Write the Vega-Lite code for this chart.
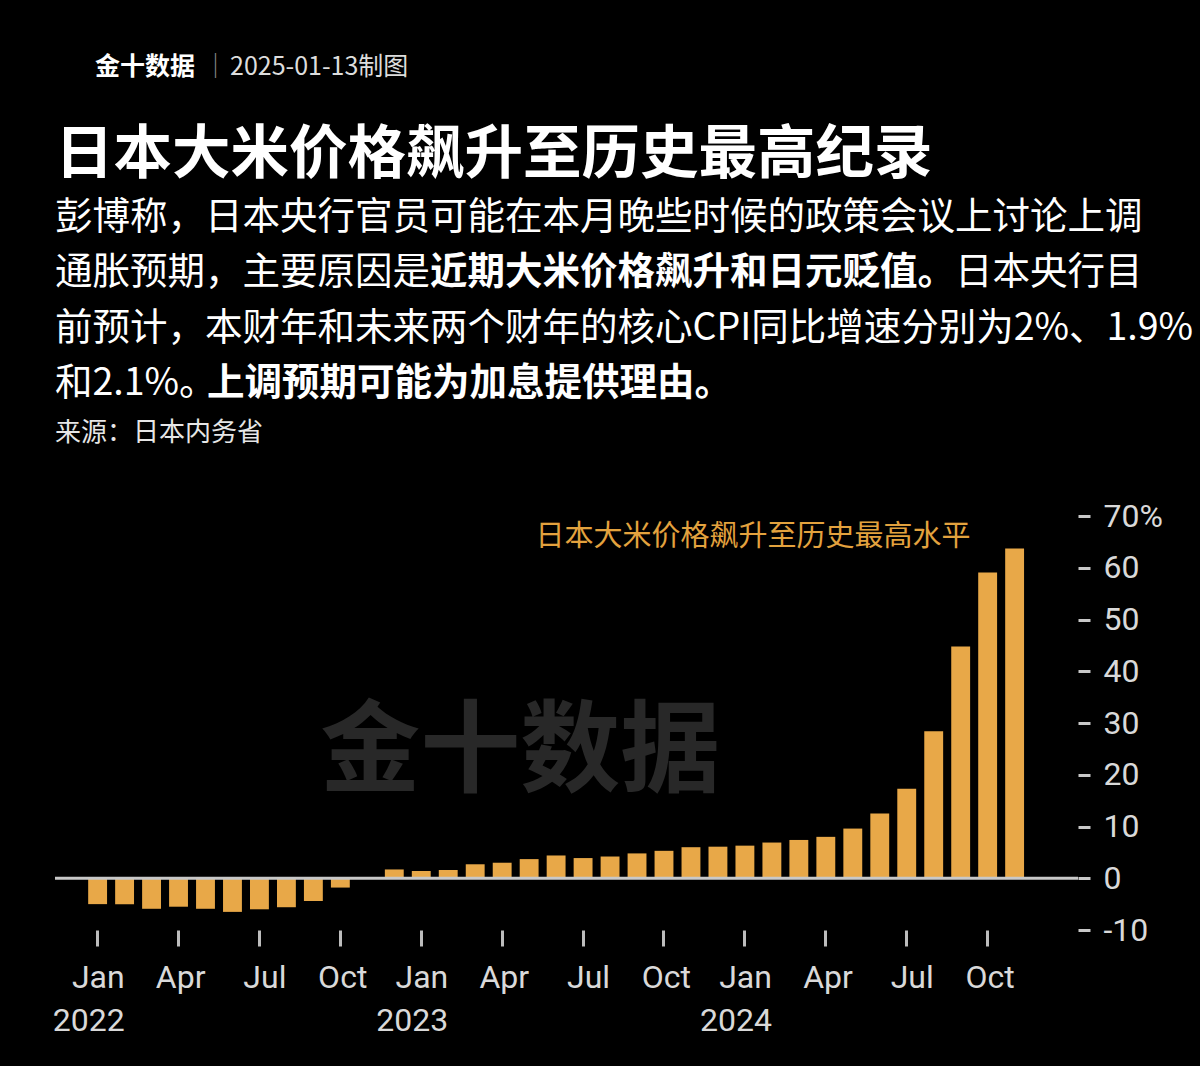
{
  "$schema": "https://vega.github.io/schema/vega-lite/v6.json",
  "background": "#000000",
  "padding": {"left": 52, "top": 0, "right": 20, "bottom": 30},
  "spacing": 46,
  "bounds": "flush",
  "config": {"view": {"stroke": null}, "font": "Noto Sans CJK SC"},
  "datasets": {
    "header": [
      {"line": 0, "role": "logo", "text": "金十数据"},
      {"line": 0, "role": "sep", "text": "｜"},
      {"line": 0, "role": "date", "text": "2025-01-13制图"},
      {"line": 1, "role": "title", "text": "日本大米价格飙升至历史最高纪录"},
      {"line": 2, "role": "para", "text": "彭博称，日本央行官员可能在本月晚些时候的政策会议上讨论上调"},
      {"line": 3, "role": "para", "text": "通胀预期，主要原因是"},
      {"line": 3, "role": "bold3", "text": "近期大米价格飙升和日元贬值。"},
      {"line": 3, "role": "tail3", "text": "日本央行目"},
      {"line": 4, "role": "para", "text": "前预计，本财年和未来两个财年的核心CPI同比增速分别为2%、1.9%"},
      {"line": 5, "role": "para", "text": "和2.1%。"},
      {"line": 5, "role": "bold5", "text": "上调预期可能为加息提供理由。"},
      {"line": 6, "role": "source", "text": "来源：日本内务省"}
    ],
    "rice": [
      {"month": "2022-01", "value": -5.0},
      {"month": "2022-02", "value": -5.0},
      {"month": "2022-03", "value": -5.9},
      {"month": "2022-04", "value": -5.5},
      {"month": "2022-05", "value": -5.9},
      {"month": "2022-06", "value": -6.5},
      {"month": "2022-07", "value": -6.0},
      {"month": "2022-08", "value": -5.6},
      {"month": "2022-09", "value": -4.4},
      {"month": "2022-10", "value": -1.8},
      {"month": "2022-11", "value": 0.0},
      {"month": "2022-12", "value": 1.7},
      {"month": "2023-01", "value": 1.4},
      {"month": "2023-02", "value": 1.6},
      {"month": "2023-03", "value": 2.7},
      {"month": "2023-04", "value": 3.0},
      {"month": "2023-05", "value": 3.7},
      {"month": "2023-06", "value": 4.4},
      {"month": "2023-07", "value": 3.9},
      {"month": "2023-08", "value": 4.2},
      {"month": "2023-09", "value": 4.8},
      {"month": "2023-10", "value": 5.3},
      {"month": "2023-11", "value": 6.0},
      {"month": "2023-12", "value": 6.1},
      {"month": "2024-01", "value": 6.3},
      {"month": "2024-02", "value": 6.9},
      {"month": "2024-03", "value": 7.4},
      {"month": "2024-04", "value": 8.0},
      {"month": "2024-05", "value": 9.6},
      {"month": "2024-06", "value": 12.5},
      {"month": "2024-07", "value": 17.3},
      {"month": "2024-08", "value": 28.4},
      {"month": "2024-09", "value": 44.8},
      {"month": "2024-10", "value": 59.1},
      {"month": "2024-11", "value": 63.7}
    ]
  },
  "vconcat": [
    {
      "width": 1023,
      "height": 470,
      "data": {"name": "header"},
      "encoding": {
        "x": {"value": 0},
        "y": {"field": "line", "type": "quantitative", "scale": {"domain": [0, 6], "range": [107.4, 439.2]}, "axis": null},
        "text": {"field": "text"}
      },
      "layer": [
        {"transform": [{"filter": "datum.role === 'logo'"}], "mark": {"type": "text", "align": "left", "baseline": "middle", "fontSize": 25, "fontWeight": "bold", "color": "#ffffff", "dx": 40, "dy": -40}},
        {"transform": [{"filter": "datum.role === 'sep'"}], "mark": {"type": "text", "align": "left", "baseline": "middle", "fontSize": 25, "color": "#8a8a8a", "dx": 148, "dy": -40}},
        {"transform": [{"filter": "datum.role === 'date'"}], "mark": {"type": "text", "align": "left", "baseline": "middle", "fontSize": 25, "color": "#dddddd", "dx": 175, "dy": -40}},
        {"transform": [{"filter": "datum.role === 'title'"}], "mark": {"type": "text", "align": "left", "baseline": "middle", "fontSize": 58.5, "fontWeight": "bold", "color": "#ffffff", "dy": -8}},
        {"transform": [{"filter": "datum.role === 'para'"}], "mark": {"type": "text", "align": "left", "baseline": "middle", "fontSize": 37.5, "color": "#ffffff"}},
        {"transform": [{"filter": "datum.role === 'bold3'"}], "mark": {"type": "text", "align": "left", "baseline": "middle", "fontSize": 37.5, "fontWeight": "bold", "color": "#ffffff", "dx": 375}},
        {"transform": [{"filter": "datum.role === 'tail3'"}], "mark": {"type": "text", "align": "left", "baseline": "middle", "fontSize": 37.5, "color": "#ffffff", "dx": 900}},
        {"transform": [{"filter": "datum.role === 'bold5'"}], "mark": {"type": "text", "align": "left", "baseline": "middle", "fontSize": 37.5, "fontWeight": "bold", "color": "#ffffff", "dx": 152}},
        {"transform": [{"filter": "datum.role === 'source'"}], "mark": {"type": "text", "align": "left", "baseline": "middle", "fontSize": 26, "color": "#e6e6e6", "dy": -6}}
      ]
    },
    {
      "width": 1023,
      "height": 414,
      "layer": [
        {
          "data": {"values": [{}]},
          "mark": {"type": "text", "color": "#282828", "fontSize": 100, "fontWeight": "bold", "align": "center", "baseline": "middle", "dx": -9, "text": "金十数据"},
          "encoding": {"x": {"datum": "2023-05"}, "y": {"datum": 24}}
        },
        {
          "data": {"name": "rice"},
          "mark": {"type": "bar", "color": "#E8A848"},
          "encoding": {
            "x": {
              "field": "month", "type": "ordinal",
              "scale": {
                "domain": ["2021-12","2022-01","2022-02","2022-03","2022-04","2022-05","2022-06","2022-07","2022-08","2022-09","2022-10","2022-11","2022-12","2023-01","2023-02","2023-03","2023-04","2023-05","2023-06","2023-07","2023-08","2023-09","2023-10","2023-11","2023-12","2024-01","2024-02","2024-03","2024-04","2024-05","2024-06","2024-07","2024-08","2024-09","2024-10","2024-11","2024-12","2025-01"],
                "paddingInner": 0.3, "paddingOuter": 0.115, "align": 1, "round": false
              },
              "axis": {
                "values": ["2022-01","2022-04","2022-07","2022-10","2023-01","2023-04","2023-07","2023-10","2024-01","2024-04","2024-07","2024-10"],
                "labelExpr": "substring(datum.value,5,7)=='01' ? ['Jan', substring(datum.value,0,4)] : substring(datum.value,5,7)=='04' ? 'Apr' : substring(datum.value,5,7)=='07' ? 'Jul' : 'Oct'",
                "title": null, "domain": false, "grid": false,
                "tickSize": 16, "tickWidth": 3, "tickColor": "#bdbdbd",
                "labelAngle": 0, "labelFont": "Roboto", "labelOffset": 27,
                "labelFontSize": 32, "labelColor": "#d9d9d9", "labelPadding": 31, "labelLineHeight": 43,
                "labelOverlap": false, "labelFlush": false
              }
            },
            "y": {
              "field": "value", "type": "quantitative",
              "scale": {"domain": [-10, 70], "nice": false, "zero": false},
              "axis": {
                "orient": "right", "values": [-10,0,10,20,30,40,50,60,70],
                "labelExpr": "datum.value == 70 ? '70%' : '' + datum.value",
                "title": null, "domain": false, "grid": false,
                "tickSize": 12, "tickWidth": 3, "tickColor": "#c8c8c8",
                "labelFont": "Roboto",
                "labelFontSize": 32, "labelColor": "#d9d9d9", "labelPadding": 13,
                "labelFlush": false, "labelOverlap": false
              }
            }
          }
        },
        {
          "data": {"values": [{}]},
          "mark": {"type": "rule", "color": "#c8c8c8", "strokeWidth": 3},
          "encoding": {"y": {"datum": 0}}
        },
        {
          "data": {"values": [{}]},
          "mark": {"type": "text", "color": "#E3A23E", "fontSize": 29, "align": "center", "baseline": "middle", "dx": 8, "text": "日本大米价格飙升至历史最高水平"},
          "encoding": {"x": {"datum": "2024-01"}, "y": {"datum": 66}}
        }
      ]
    }
  ]
}
